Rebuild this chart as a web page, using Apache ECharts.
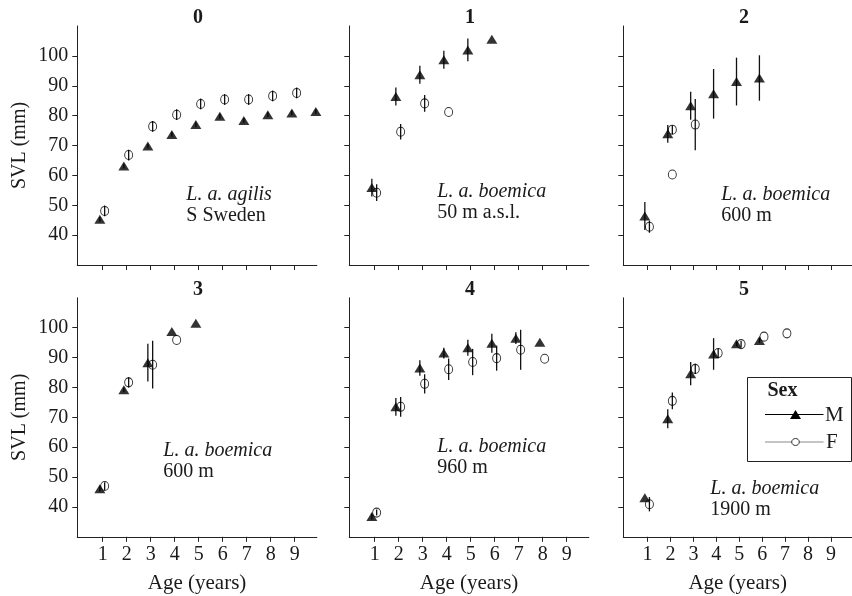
<!DOCTYPE html>
<html>
<head>
<meta charset="utf-8">
<script src="https://cdn.jsdelivr.net/npm/echarts@6/dist/echarts.min.js"></script>
<style>
html,body{margin:0;padding:0;background:#fff;}
#chart{width:852px;height:596px;}
</style>
</head>
<body>
<div id="chart"></div>
<script>
// ---------- DATA ----------
const panelTitles = ['0', '1', '2', '3', '4', '5'];
const annotItalic = ['L. a. agilis', 'L. a. boemica', 'L. a. boemica', 'L. a. boemica', 'L. a. boemica', 'L. a. boemica'];
const annotPlain  = ['S Sweden', '50 m a.s.l.', '600 m', '600 m', '960 m', '1900 m'];
const xTicks = [1, 2, 3, 4, 5, 6, 7, 8, 9];
const yTicks = [40, 50, 60, 70, 80, 90, 100];

// Panel 0
const p0MAge = [1, 2, 3, 4, 5, 6, 7, 8, 9, 10];
const p0M    = [45.3, 63.1, 69.8, 73.7, 77.0, 79.8, 78.4, 80.3, 80.9, 81.4];
const p0MErr = [0.8, 0.8, 0.8, 0.8, 0.8, 0.8, 0.8, 0.8, 0.8, 0.8];
const p0FAge = [1, 2, 3, 4, 5, 6, 7, 8, 9];
const p0F    = [48.1, 66.8, 76.4, 80.3, 83.9, 85.4, 85.4, 86.6, 87.6];
const p0FErr = [1.8, 1.8, 1.8, 1.8, 1.8, 1.8, 1.8, 1.8, 1.8];
// Panel 1
const p1MAge = [1, 2, 3, 4, 5, 6];
const p1M    = [55.9, 86.4, 93.7, 98.7, 102.0, 105.6];
const p1MErr = [3.0, 3.0, 3.0, 3.0, 3.8, 0];
const p1FAge = [1, 2, 3, 4];
const p1F    = [54.2, 74.6, 84.1, 81.2];
const p1FErr = [2.8, 2.6, 2.8, 0];
// Panel 2
const p2MAge = [1, 2, 3, 4, 5, 6];
const p2M    = [46.4, 73.9, 83.3, 87.3, 91.4, 92.6];
const p2MErr = [4.7, 3.0, 4.7, 8.3, 8.0, 7.6];
const p2FAge = [1, 2, 2, 3];
const p2F    = [42.8, 60.3, 75.3, 77.0];
const p2FErr = [2.0, 0, 1.5, 8.6];
// Panel 3
const p3MAge = [1, 2, 3, 4, 5];
const p3M    = [46.1, 79.2, 88.3, 98.7, 101.5];
const p3MErr = [1.0, 0.8, 6.3, 0, 0];
const p3FAge = [1, 2, 3, 4];
const p3F    = [47.0, 81.7, 87.6, 95.9];
const p3FErr = [1.3, 1.7, 8.0, 0];
// Panel 4
const p4MAge = [1, 2, 3, 4, 5, 6, 7, 8];
const p4M    = [36.8, 73.5, 86.5, 91.5, 93.3, 94.8, 96.5, 95.1];
const p4MErr = [1.0, 3.0, 2.6, 1.8, 2.7, 3.2, 2.0, 0];
const p4FAge = [1, 2, 3, 4, 5, 6, 7, 8];
const p4F    = [38.1, 73.5, 81.2, 86.1, 88.5, 89.8, 92.6, 89.6];
const p4FErr = [1.0, 3.3, 3.2, 3.6, 4.4, 4.2, 6.7, 0];
// Panel 5
const p5MAge = [1, 2, 3, 4, 5, 6];
const p5M    = [43.1, 69.5, 84.6, 91.2, 94.6, 95.7];
const p5MErr = [0, 3.2, 3.9, 5.3, 0.8, 0.8];
const p5FAge = [1, 2, 3, 4, 5, 6, 7];
const p5F    = [40.9, 75.5, 86.2, 91.5, 94.5, 97.0, 98.1];
const p5FErr = [2.4, 2.8, 1.7, 1.5, 1.0, 0, 0];

const panels = [
  {mAge: p0MAge, m: p0M, mErr: p0MErr, fAge: p0FAge, f: p0F, fErr: p0FErr},
  {mAge: p1MAge, m: p1M, mErr: p1MErr, fAge: p1FAge, f: p1F, fErr: p1FErr},
  {mAge: p2MAge, m: p2M, mErr: p2MErr, fAge: p2FAge, f: p2F, fErr: p2FErr},
  {mAge: p3MAge, m: p3M, mErr: p3MErr, fAge: p3FAge, f: p3F, fErr: p3FErr},
  {mAge: p4MAge, m: p4M, mErr: p4MErr, fAge: p4FAge, f: p4F, fErr: p4FErr},
  {mAge: p5MAge, m: p5M, mErr: p5MErr, fAge: p5FAge, f: p5F, fErr: p5FErr}
];

// ---------- LAYOUT ----------
const FONT = '"Liberation Serif", "Times New Roman", serif';
const TXT = '#1a1a1a';
const colLeft = [77.3, 349.3, 623.3];
const rowTop = [26, 297.8];
const gridW = 239.5, gridH = 239;
const dodgeM = -0.12, dodgeF = 0.08;
const annotOffset = [[109, 195 - 26], [88, 191.5 - 26], [98, 195 - 26], [86, 451 - 297.8], [88, 447 - 297.8], [87, 489 - 297.8]];
const annotLineGap = 21;

const chart = echarts.init(document.getElementById('chart'), null, {renderer: 'canvas'});

const grids = [], xAxes = [], yAxes = [], series = [], graphics = [];

function errRender(color) {
  return function (params, api) {
    const x = api.value(0), y = api.value(1), e = api.value(2);
    if (!e) return null;
    const p1 = api.coord([x, y - e]);
    const p2 = api.coord([x, y + e]);
    return {type: 'line', shape: {x1: p1[0], y1: p1[1], x2: p2[0], y2: p2[1]},
            style: {stroke: color, lineWidth: 1.3}};
  };
}

panels.forEach((p, i) => {
  const col = i % 3, row = Math.floor(i / 3);
  const left = colLeft[col], top = rowTop[row];
  grids.push({left: left, top: top, width: gridW, height: gridH, containLabel: false});
  xAxes.push({
    type: 'value', gridIndex: i, min: -0.06, max: 9.92,
    splitLine: {show: false},
    axisLine: {show: true, onZero: false, lineStyle: {color: '#222', width: 1}},
    axisTick: {show: true, inside: false, length: 5, customValues: xTicks, lineStyle: {color: '#222'}},
    axisLabel: {show: row === 1, customValues: xTicks, margin: 8, fontFamily: FONT, fontSize: 20, color: TXT},
    name: row === 1 ? 'Age (years)' : '',
    nameLocation: 'middle', nameGap: 36,
    nameTextStyle: {fontFamily: FONT, fontSize: 21, color: TXT}
  });
  yAxes.push({
    type: 'value', gridIndex: i, min: 30, max: 110,
    splitLine: {show: false},
    axisLine: {show: true, onZero: false, lineStyle: {color: '#222', width: 1}},
    axisTick: {show: true, inside: false, length: 5, customValues: yTicks, lineStyle: {color: '#222'}},
    axisLabel: {show: col === 0, customValues: yTicks, margin: 9, fontFamily: FONT, fontSize: 20, color: TXT},
    name: col === 0 ? 'SVL (mm)' : '',
    nameLocation: 'middle', nameGap: 48,
    nameTextStyle: {fontFamily: FONT, fontSize: 20, color: TXT}
  });
  const mData = p.mAge.map((a, k) => [a + dodgeM, p.m[k], p.mErr[k]]);
  const fData = p.fAge.map((a, k) => [a + dodgeF, p.f[k], p.fErr[k]]);
  series.push({
    type: 'custom', xAxisIndex: i, yAxisIndex: i, renderItem: errRender('#111'),
    data: mData, encode: {x: 0, y: 1}, z: 2, silent: true
  });
  series.push({
    type: 'scatter', name: 'M', xAxisIndex: i, yAxisIndex: i,
    symbol: 'triangle', symbolSize: [11, 9],
    itemStyle: {color: '#000'}, data: mData, encode: {x: 0, y: 1}, z: 3
  });
  series.push({
    type: 'custom', xAxisIndex: i, yAxisIndex: i, renderItem: errRender('#111'),
    data: fData, encode: {x: 0, y: 1}, z: 4, silent: true
  });
  series.push({
    type: 'scatter', name: 'F', xAxisIndex: i, yAxisIndex: i,
    symbol: 'circle', symbolSize: [8, 9],
    itemStyle: {color: 'rgba(255,255,255,0)', borderColor: '#000', borderWidth: 1},
    data: fData, encode: {x: 0, y: 1}, z: 5
  });
  // panel title
  graphics.push({
    type: 'text', x: left + gridW / 2 + 1, y: top - 8,
    style: {text: panelTitles[i], font: 'bold 20px ' + FONT, fill: TXT, align: 'center', verticalAlign: 'middle'}
  });
  // annotations
  const ao = annotOffset[i];
  graphics.push({
    type: 'text', x: left + ao[0], y: top + ao[1],
    style: {text: annotItalic[i], font: 'italic 20px ' + FONT, fill: TXT, align: 'left', verticalAlign: 'middle'}
  });
  graphics.push({
    type: 'text', x: left + ao[0], y: top + ao[1] + annotLineGap,
    style: {text: annotPlain[i], font: '20px ' + FONT, fill: TXT, align: 'left', verticalAlign: 'middle'}
  });
});

// Legend box (Sex)
graphics.push({
  type: 'group', x: 747.5, y: 377.5, children: [
    {type: 'rect', shape: {x: 0, y: 0, width: 104, height: 84},
     style: {fill: '#fff', stroke: '#222', lineWidth: 1}},
    {type: 'text', x: 20, y: 13.5, style: {text: 'Sex', font: 'bold 20px ' + FONT, fill: TXT, align: 'left', verticalAlign: 'middle'}},
    {type: 'line', shape: {x1: 17.5, y1: 37, x2: 76, y2: 37}, style: {stroke: '#000', lineWidth: 1.2}},
    {type: 'polygon', shape: {points: [[48, 32.5], [53.5, 41.5], [42.5, 41.5]]}, style: {fill: '#000'}},
    {type: 'text', x: 77.5, y: 37.5, style: {text: 'M', font: '21px ' + FONT, fill: TXT, align: 'left', verticalAlign: 'middle'}},
    {type: 'line', shape: {x1: 17.5, y1: 64.5, x2: 76, y2: 64.5}, style: {stroke: '#8a8a8a', lineWidth: 1.2}},
    {type: 'ellipse', shape: {cx: 48, cy: 64.5, rx: 3.8, ry: 3.5}, style: {fill: '#fff', stroke: '#333', lineWidth: 1}},
    {type: 'text', x: 78.5, y: 65, style: {text: 'F', font: '21px ' + FONT, fill: TXT, align: 'left', verticalAlign: 'middle'}}
  ], z: 100
});

chart.setOption({
  animation: false,
  backgroundColor: '#fff',
  grid: grids,
  xAxis: xAxes,
  yAxis: yAxes,
  series: series,
  graphic: graphics
});
</script>
</body>
</html>
